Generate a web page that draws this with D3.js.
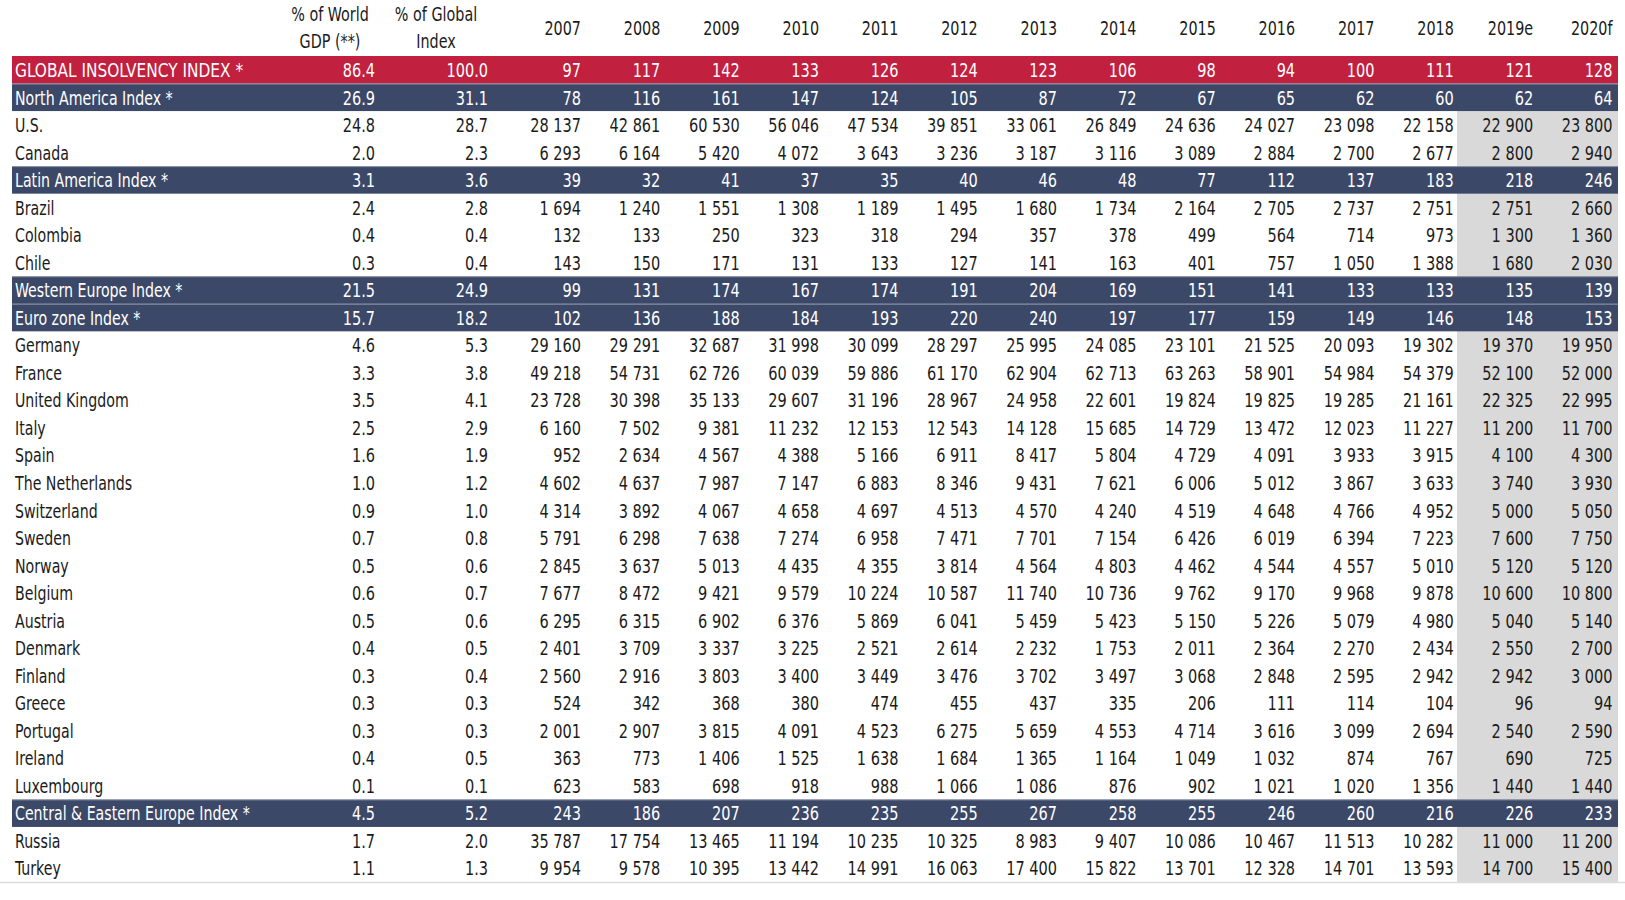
<!DOCTYPE html>
<html>
<head>
<meta charset="utf-8">
<script src="https://cdn.jsdelivr.net/npm/d3@7"></script>
<style>
  html, body { margin: 0; padding: 0; background: #ffffff; }
  svg { display: block; }
  text { font-family: "DejaVu Sans Condensed", "DejaVu Sans", sans-serif; }
</style>
</head>
<body>
<svg id="chart" width="1625" height="900"></svg>
<script>
// ---------- DATA ----------
const years = ["2007","2008","2009","2010","2011","2012","2013","2014","2015","2016","2017","2018","2019e","2020f"];
const forecastYears = ["2019e","2020f"];
const shareHeaders = [["% of World", "GDP (**)"], ["% of Global", "Index"]];

const rowLabels = [
  "GLOBAL INSOLVENCY INDEX *", "North America Index *", "U.S.", "Canada",
  "Latin America Index *", "Brazil", "Colombia", "Chile",
  "Western Europe Index *", "Euro zone Index *", "Germany", "France", "United Kingdom",
  "Italy", "Spain", "The Netherlands", "Switzerland", "Sweden", "Norway", "Belgium",
  "Austria", "Denmark", "Finland", "Greece", "Portugal", "Ireland", "Luxembourg",
  "Central & Eastern Europe Index *", "Russia", "Turkey"
];
const rowKinds = [
  "global", "region", "country", "country",
  "region", "country", "country", "country",
  "region", "region", "country", "country", "country",
  "country", "country", "country", "country", "country", "country", "country",
  "country", "country", "country", "country", "country", "country", "country",
  "region", "country", "country"
];
const worldGdpShare = [86.4, 26.9, 24.8, 2.0, 3.1, 2.4, 0.4, 0.3, 21.5, 15.7, 4.6, 3.3, 3.5, 2.5, 1.6, 1.0, 0.9, 0.7, 0.5, 0.6, 0.5, 0.4, 0.3, 0.3, 0.3, 0.4, 0.1, 4.5, 1.7, 1.1];
const globalIndexShare = [100.0, 31.1, 28.7, 2.3, 3.6, 2.8, 0.4, 0.4, 24.9, 18.2, 5.3, 3.8, 4.1, 2.9, 1.9, 1.2, 1.0, 0.8, 0.6, 0.7, 0.6, 0.5, 0.4, 0.3, 0.3, 0.5, 0.1, 5.2, 2.0, 1.3];

const globalIndex   = [97,117,142,133,126,124,123,106,98,94,100,111,121,128];
const northAmerica  = [78,116,161,147,124,105,87,72,67,65,62,60,62,64];
const us            = [28137,42861,60530,56046,47534,39851,33061,26849,24636,24027,23098,22158,22900,23800];
const canada        = [6293,6164,5420,4072,3643,3236,3187,3116,3089,2884,2700,2677,2800,2940];
const latinAmerica  = [39,32,41,37,35,40,46,48,77,112,137,183,218,246];
const brazil        = [1694,1240,1551,1308,1189,1495,1680,1734,2164,2705,2737,2751,2751,2660];
const colombia      = [132,133,250,323,318,294,357,378,499,564,714,973,1300,1360];
const chile         = [143,150,171,131,133,127,141,163,401,757,1050,1388,1680,2030];
const westernEurope = [99,131,174,167,174,191,204,169,151,141,133,133,135,139];
const euroZone      = [102,136,188,184,193,220,240,197,177,159,149,146,148,153];
const germany       = [29160,29291,32687,31998,30099,28297,25995,24085,23101,21525,20093,19302,19370,19950];
const france        = [49218,54731,62726,60039,59886,61170,62904,62713,63263,58901,54984,54379,52100,52000];
const unitedKingdom = [23728,30398,35133,29607,31196,28967,24958,22601,19824,19825,19285,21161,22325,22995];
const italy         = [6160,7502,9381,11232,12153,12543,14128,15685,14729,13472,12023,11227,11200,11700];
const spain         = [952,2634,4567,4388,5166,6911,8417,5804,4729,4091,3933,3915,4100,4300];
const netherlands   = [4602,4637,7987,7147,6883,8346,9431,7621,6006,5012,3867,3633,3740,3930];
const switzerland   = [4314,3892,4067,4658,4697,4513,4570,4240,4519,4648,4766,4952,5000,5050];
const sweden        = [5791,6298,7638,7274,6958,7471,7701,7154,6426,6019,6394,7223,7600,7750];
const norway        = [2845,3637,5013,4435,4355,3814,4564,4803,4462,4544,4557,5010,5120,5120];
const belgium       = [7677,8472,9421,9579,10224,10587,11740,10736,9762,9170,9968,9878,10600,10800];
const austria       = [6295,6315,6902,6376,5869,6041,5459,5423,5150,5226,5079,4980,5040,5140];
const denmark       = [2401,3709,3337,3225,2521,2614,2232,1753,2011,2364,2270,2434,2550,2700];
const finland       = [2560,2916,3803,3400,3449,3476,3702,3497,3068,2848,2595,2942,2942,3000];
const greece        = [524,342,368,380,474,455,437,335,206,111,114,104,96,94];
const portugal      = [2001,2907,3815,4091,4523,6275,5659,4553,4714,3616,3099,2694,2540,2590];
const ireland       = [363,773,1406,1525,1638,1684,1365,1164,1049,1032,874,767,690,725];
const luxembourg    = [623,583,698,918,988,1066,1086,876,902,1021,1020,1356,1440,1440];
const centralEastEurope = [243,186,207,236,235,255,267,258,255,246,260,216,226,233];
const russia        = [35787,17754,13465,11194,10235,10325,8983,9407,10086,10467,11513,10282,11000,11200];
const turkey        = [9954,9578,10395,13442,14991,16063,17400,15822,13701,12328,14701,13593,14700,15400];

const rowValues = [
  globalIndex, northAmerica, us, canada, latinAmerica, brazil, colombia, chile,
  westernEurope, euroZone, germany, france, unitedKingdom, italy, spain, netherlands,
  switzerland, sweden, norway, belgium, austria, denmark, finland, greece, portugal,
  ireland, luxembourg, centralEastEurope, russia, turkey
];

// ---------- LAYOUT ----------
const W = 1625, H = 900;
const tableLeft = 12, tableRight = 1618;
const svg = d3.select("#chart");

const locale = d3.formatLocale({ decimal: ".", thousands: "\u00a0", grouping: [3], currency: ["", ""] });
const fmtInt = locale.format(",d");
const fmtPct = d3.format(".1f");

const y = d3.scaleBand().domain(d3.range(rowLabels.length)).range([56, 882]).paddingInner(0).paddingOuter(0);
const xYear = d3.scalePoint().domain(years).range([581, 1612.5]);
const xShare = d3.scalePoint().domain(["gdp", "idx"]).range([375, 488]);
const xShareHead = d3.scalePoint().domain(["gdp", "idx"]).range([330, 436]);

const colors = {
  global: "#c1203f",
  region: "#3c4867",
  forecast: "#d9d9d9",
  text: "#1b1b1b",
  bandText: "#ffffff"
};
const fontSize = 19;
const sxNum = 0.85, sxLabel = 0.83, sxGlobalLabel = 0.9, sxHead = 0.84;
const textDy = 7.2;   // vertical centring offset for body rows (px)
const headDy = 6.6;   // vertical centring offset for header (px)

// forecast shading
const fcStart = 1457;
svg.append("rect")
  .attr("x", fcStart).attr("y", y(2))
  .attr("width", tableRight - fcStart)
  .attr("height", y(rowLabels.length - 1) + y.bandwidth() - y(2))
  .attr("fill", colors.forecast);

// rows
const rows = rowLabels.map((label, i) => ({ label, kind: rowKinds[i], gdp: worldGdpShare[i], idx: globalIndexShare[i], vals: rowValues[i], i }));

svg.selectAll("rect.band")
  .data(rows.filter(r => r.kind !== "country"))
  .join("rect")
  .attr("class", "band")
  .attr("x", tableLeft)
  .attr("y", d => y(d.i))
  .attr("width", tableRight - tableLeft)
  .attr("height", y.bandwidth())
  .attr("fill", d => d.kind === "global" ? colors.global : colors.region);

// faint separator at the top of region bands
svg.selectAll("line.sep")
  .data(rows.filter(r => r.kind === "region"))
  .join("line")
  .attr("x1", tableLeft).attr("x2", tableRight)
  .attr("y1", d => y(d.i) + 0.5).attr("y2", d => y(d.i) + 0.5)
  .attr("stroke", "#c9ced8").attr("stroke-width", 1).attr("opacity", 0.5);

// bottom rule
svg.append("line")
  .attr("x1", 0).attr("x2", W)
  .attr("y1", y(rowLabels.length - 1) + y.bandwidth() + 0.5)
  .attr("y2", y(rowLabels.length - 1) + y.bandwidth() + 0.5)
  .attr("stroke", "#dcdcdc").attr("stroke-width", 1.5);

// headers
const header = svg.append("g").attr("font-size", fontSize).attr("fill", colors.text);
header.selectAll("text.year")
  .data(years)
  .join("text")
  .attr("class", "year")
  .attr("transform", d => `translate(${xYear(d)},${28 + headDy}) scale(${sxHead},1)`)
  .attr("text-anchor", "end")
  .text(d => d);
["gdp", "idx"].forEach((k, j) => {
  header.selectAll("text.sh" + j)
    .data(shareHeaders[j])
    .join("text")
    .attr("class", "sh" + j)
    .attr("transform", (d, li) => `translate(${xShareHead(k)},${(li === 0 ? 14.5 : 41.5) + headDy}) scale(${sxHead},1)`)
    .attr("text-anchor", "middle")
    .text(d => d);
});

// body text
const rowG = svg.selectAll("g.row")
  .data(rows)
  .join("g")
  .attr("class", "row")
  .attr("transform", d => `translate(0,${y(d.i) + y.bandwidth() / 2 + textDy})`)
  .attr("font-size", fontSize)
  .attr("fill", d => d.kind === "country" ? colors.text : colors.bandText);

rowG.append("text")
  .attr("transform", d => `translate(15,0) scale(${d.kind === "global" ? sxGlobalLabel : sxLabel},1)`)
  .text(d => d.label);

rowG.append("text")
  .attr("transform", `translate(${xShare("gdp")},0) scale(${sxNum},1)`)
  .attr("text-anchor", "end")
  .text(d => fmtPct(d.gdp));
rowG.append("text")
  .attr("transform", `translate(${xShare("idx")},0) scale(${sxNum},1)`)
  .attr("text-anchor", "end")
  .text(d => fmtPct(d.idx));

rowG.selectAll("text.val")
  .data(d => d.vals.map((v, k) => ({ v, year: years[k] })))
  .join("text")
  .attr("class", "val")
  .attr("transform", d => `translate(${xYear(d.year)},0) scale(${sxNum},1)`)
  .attr("text-anchor", "end")
  .text(d => fmtInt(d.v));
</script>
</body>
</html>
